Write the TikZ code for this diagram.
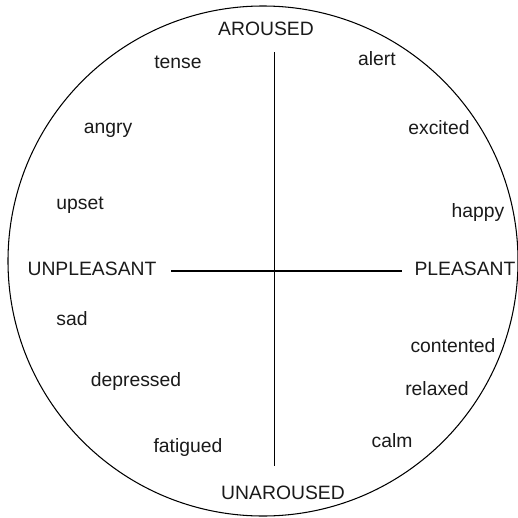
\documentclass[tikz,border=0pt]{standalone}
\usepackage{fontspec}
\setmainfont{Liberation Sans}
\usetikzlibrary{calc}
\definecolor{ink}{HTML}{1A1A1A}
\newcommand{\moodfont}{\fontsize{11}{13}\selectfont}
\tikzset{
 every node/.append style={font=\moodfont,text=ink},
 mood/.style={anchor=base,inner sep=1pt},
 pole/.style={anchor=base,inner sep=1pt},
 axis/.style={draw=black,line width=.7pt},
 rim/.style={draw=black,line width=.6pt},
}

\begin{document}
\begin{tikzpicture}
\useasboundingbox (0,0) rectangle (10.36,-10.36);

\draw[rim] (5.26,-5.22) circle (5.10);

% the two poles of each axis
\node[pole] (aroused) at (5.32,-0.70) {AROUSED};
\node[pole] (unaroused) at (5.66,-9.98) {UNAROUSED};
\node[pole] (unpleasant) at (1.84,-5.50) {UNPLEASANT};
\node[pole] (pleasant) at (9.30,-5.50) {PLEASANT};

\coordinate (top) at (5.49,-1.04);
\coordinate (bottom) at (5.49,-9.32);
\coordinate (left) at (3.42,-5.42);
\coordinate (right) at (8.04,-5.42);
\draw[axis] (top) -- (bottom);
\draw[axis] (left) -- (right);

% moods round the rim
\node[mood] (tense) at (3.56,-1.36) {tense};
\node[mood] (alert) at (7.54,-1.30) {alert};
\node[mood] (angry) at (2.16,-2.66) {angry};
\node[mood] (excited) at (8.78,-2.68) {excited};
\node[mood] (upset) at (1.60,-4.18) {upset};
\node[mood] (happy) at (9.56,-4.34) {happy};
\node[mood] (sad) at (1.44,-6.50) {sad};
\node[mood] (contented) at (9.06,-7.04) {contented};
\node[mood] (depressed) at (2.72,-7.72) {depressed};
\node[mood] (relaxed) at (8.74,-7.90) {relaxed};
\node[mood] (fatigued) at (3.76,-9.04) {fatigued};
\node[mood] (calm) at (7.84,-8.94) {calm};

\end{tikzpicture}
\end{document}
